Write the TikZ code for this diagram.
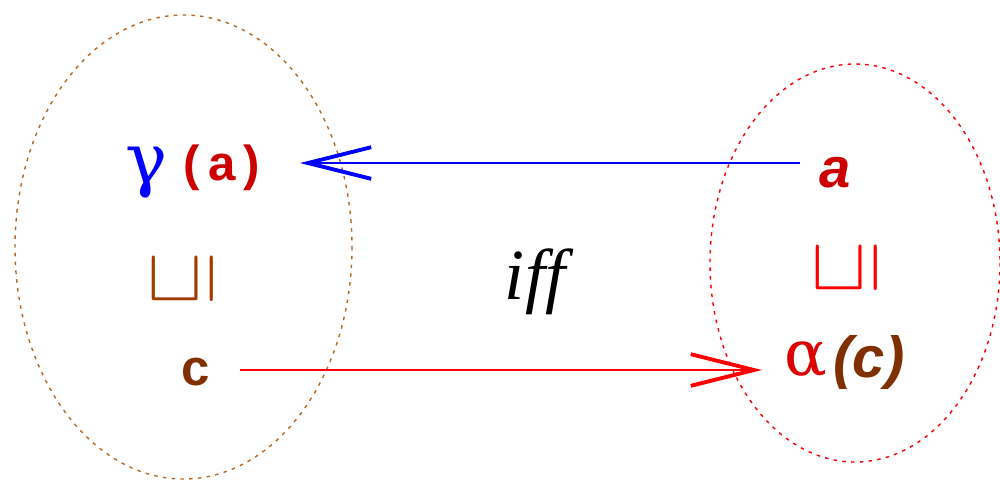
\documentclass[tikz,border=0pt]{standalone}
\usepackage{fontspec}
\setmainfont{Liberation Serif}
\newfontfamily\hel{Liberation Sans}
\newfontfamily\grk{DejaVu Serif}
\usetikzlibrary{arrows.meta}
\definecolor{brownA}{RGB}{160,60,0}
\definecolor{brownB}{RGB}{128,48,0}
\definecolor{brownE}{RGB}{190,100,30}
\definecolor{redA}{RGB}{204,0,0}
\definecolor{redB}{RGB}{221,0,0}
\newcommand{\relsym}{\rotatebox{90}{\scalebox{4.1}[4.5]{$\sqsubseteq$}}}
\tikzset{
  set/.style={dash pattern=on 2pt off 3pt, line width=0.8pt},
  lbl/.style={inner sep=0pt, anchor=center},
  conn/.style={line width=0.8pt, -{Straight Barb[length=36pt, width=18pt, line width=2.2pt]}},
  rel/.style={lbl}
}
\begin{document}
\begin{tikzpicture}[x=0.02cm, y=-0.02cm]
\useasboundingbox (0,0) rectangle (1000,481);
% sets
\draw[set, brownE] (183.5,247) ellipse [x radius=168.5, y radius=232];
\draw[set, red] (855,263) ellipse [x radius=145, y radius=199];
% left side
\node[lbl, blue, font=\grk\fontsize{40}{44}\selectfont] (gamma) at (146,173) {γ};
\node[lbl, redA, font=\hel\bfseries\fontsize{28}{32}\selectfont] (ga) at (222,168) {(\,a\,)};
\node[rel, brownA] (lsq) at (183,279) {\relsym};
\node[lbl, brownB, font=\hel\bfseries\fontsize{29}{32}\selectfont] (c) at (196,372) {c};
% right side
\node[lbl, redA, font=\hel\bfseries\itshape\fontsize{32}{36}\selectfont] (a) at (835,173) {a};
\node[rel, red] (rsq) at (847,268) {\relsym};
\node[lbl, redB, font=\grk\fontsize{36}{40}\selectfont] (alpha) at (806,360) {α};
\node[lbl, brownB, font=\hel\bfseries\itshape\fontsize{33}{36}\selectfont] (ac) at (869,362) {(c)};
% middle
\node[lbl, font=\itshape\fontsize{41}{44}\selectfont] (iff) at (535,282) {i{}f{}f};
% connectors
\coordinate (bs) at (800,163);
\coordinate (be) at (300,163);
\coordinate (rs) at (240,370);
\coordinate (re) at (762,370);
\draw[conn, blue] (bs) -- (be);
\draw[conn, red] (rs) -- (re);
\end{tikzpicture}
\end{document}
